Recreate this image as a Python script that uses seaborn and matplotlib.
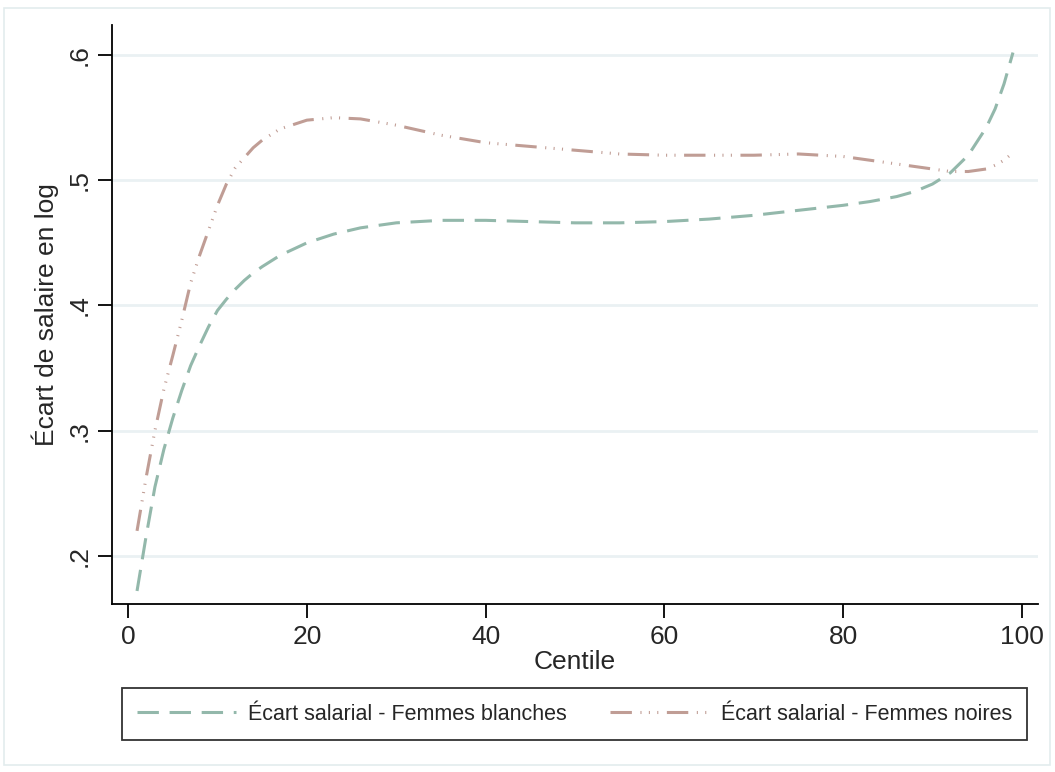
import matplotlib
matplotlib.use("Agg")
import matplotlib.pyplot as plt
import seaborn as sns
import pandas as pd
from matplotlib.patches import Rectangle
from matplotlib.ticker import FuncFormatter

centile = [1, 2, 3, 4, 5, 6, 7, 8, 9, 10, 11, 12, 13, 14, 15, 17, 20, 23, 26, 30,
           35, 40, 45, 50, 55, 60, 65, 70, 75, 80, 83, 86, 88, 90, 92, 94, 96, 97, 98, 99]
ecart_blanches = [0.172, 0.215, 0.255, 0.285, 0.310, 0.332, 0.352, 0.368, 0.383, 0.396,
                  0.405, 0.413, 0.420, 0.426, 0.431, 0.440, 0.450, 0.457, 0.462, 0.466,
                  0.468, 0.468, 0.467, 0.466, 0.466, 0.467, 0.469, 0.472, 0.476, 0.480,
                  0.483, 0.487, 0.491, 0.497, 0.506, 0.520, 0.542, 0.557, 0.577, 0.602]
ecart_noires = [0.220, 0.262, 0.300, 0.333, 0.360, 0.388, 0.418, 0.440, 0.460, 0.480,
                0.497, 0.510, 0.518, 0.526, 0.532, 0.541, 0.548, 0.550, 0.549, 0.544,
                0.536, 0.530, 0.527, 0.524, 0.521, 0.520, 0.520, 0.520, 0.521, 0.519,
                0.516, 0.513, 0.511, 0.509, 0.507, 0.507, 0.509, 0.512, 0.516, 0.522]
labels = ["Écart salarial - Femmes blanches", "Écart salarial - Femmes noires"]
xticks = [0, 20, 40, 60, 80, 100]
yticks = [0.2, 0.3, 0.4, 0.5, 0.6]

sns.set_theme(style="white")
plt.rcParams["font.family"] = ["Liberation Sans", "DejaVu Sans"]

W, H = 1055, 772
fig = plt.figure(figsize=(W / 100, H / 100), dpi=100)
ax = fig.add_axes([112 / W, 1 - 604 / H, (1038 - 112) / W, (604 - 25) / H])

green = "#93b8ab"
pink = "#c09d95"

sns.lineplot(x=centile, y=ecart_blanches, ax=ax, color=green, lw=2.2,
             linestyle=(0, (7, 3.5)), label=labels[0])
sns.lineplot(x=centile, y=ecart_noires, ax=ax, color=pink, lw=2.2,
             linestyle=(0, (7, 2.8, 0.35, 2.4, 0.35, 2.4, 0.35, 2.8)), label=labels[1])

ax.set_xlim(-1.8, 101.8)
ax.set_ylim(0.1616, 0.6 + 30 / 1250)
ax.set_xticks(xticks)
ax.set_yticks(yticks)
ax.yaxis.set_major_formatter(FuncFormatter(lambda v, p: ("%.1f" % v).lstrip("0")))
ax.tick_params(axis="both", which="major", length=10, width=1.3, color="black",
               labelsize=19, bottom=True, left=True, direction="out", pad=5)
for lab in ax.get_yticklabels():
    lab.set_rotation(90)
    lab.set_va("center")
ax.grid(True, axis="y", color="#eaf1f3", lw=2)
ax.grid(False, axis="x")
for s in ["top", "right"]:
    ax.spines[s].set_visible(False)
for s in ["left", "bottom"]:
    ax.spines[s].set_color("black")
    ax.spines[s].set_linewidth(1.3)

ax.set_xlabel("Centile", fontsize=19, labelpad=1)
ax.set_ylabel("Écart de salaire en log", fontsize=19, labelpad=6)

leg = ax.legend(loc="center", bbox_to_anchor=(122 / W, 1 - 741 / H, (1027 - 122) / W, 54 / H),
                bbox_transform=fig.transFigure, ncol=2, mode="expand", fontsize=15.5,
                frameon=True, fancybox=False, edgecolor="black", handlelength=4.6,
                borderpad=0.7, columnspacing=2.0, handletextpad=0.55, borderaxespad=0)
leg.get_frame().set_linewidth(1.3)

fig.patches.append(Rectangle((4 / W, 1 - 765 / H), (1050 - 4) / W, (765 - 8) / H,
                             transform=fig.transFigure, fill=False,
                             edgecolor="#e3ecee", lw=1.2))

fig.savefig("out.png", dpi=100, facecolor="white")
